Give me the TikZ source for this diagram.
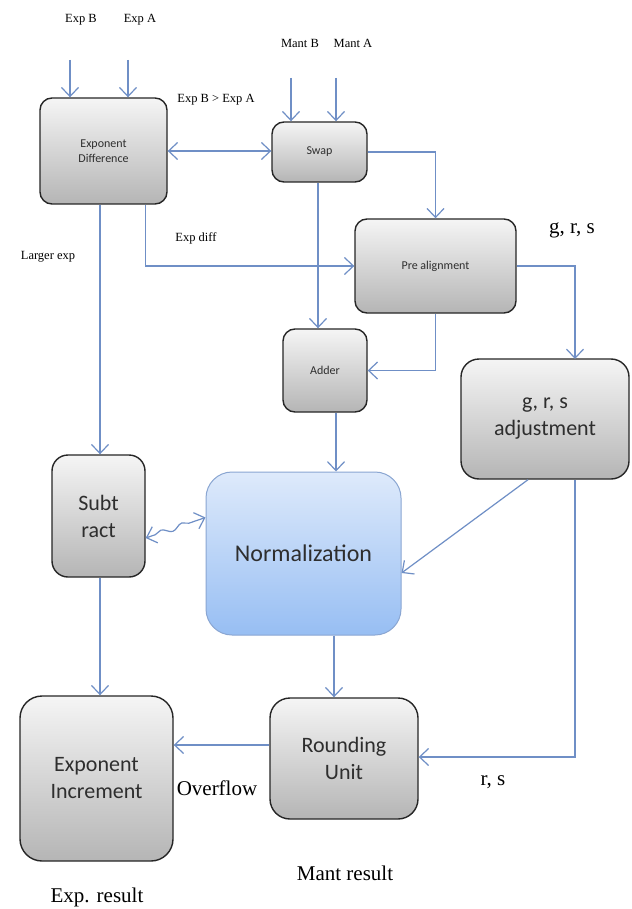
\documentclass[tikz,border=0pt]{standalone}
\usepackage{fontspec}
\setmainfont{Liberation Serif}
\newfontfamily\boxfont{Carlito}
\usetikzlibrary{arrows.meta,calc,decorations.pathmorphing}

\definecolor{arrowblue}{HTML}{6F8FC6}
\definecolor{boxtop}{HTML}{F5F5F5}
\definecolor{boxbot}{HTML}{B5B5B5}
\definecolor{normtop}{HTML}{DEEAFB}
\definecolor{normbot}{HTML}{97BEF3}
\definecolor{normedge}{HTML}{8AA6D2}
\definecolor{boxtext}{HTML}{2E2E2E}

\tikzset{
  blk/.style={draw=black!85, line width=1.4pt, rounded corners=#1,
    top color=boxtop, bottom color=boxbot, inner sep=0pt, align=center,
    text=boxtext},
  blk/.default=12pt,
  smalltxt/.style={font=\boxfont\fontsize{12}{14.5}\selectfont},
  bigtxt/.style={font=\boxfont\fontsize{22}{27}\selectfont},
  lbl/.style={inner sep=0pt, font=\fontsize{12.5}{14}\selectfont},
  biglbl/.style={inner sep=0pt, font=\fontsize{21}{24}\selectfont},
  tip/.tip={Straight Barb[length=9pt,width=17pt]},
  conn/.style={draw=arrowblue, line width=1.2pt, -tip},
  conn2/.style={draw=arrowblue, line width=1.2pt, tip-tip},
}

\begin{document}
\begin{tikzpicture}[x=1pt,y=-1pt]
\useasboundingbox[fill=white] (0,0) rectangle (631,909);

% ---------- blocks ----------
\node[blk, smalltxt, minimum width=127pt, minimum height=106pt] (ed) at (103.5,151) {Exponent\\Difference};
\node[blk, smalltxt, minimum width=95pt, minimum height=60pt] (sw) at (319.5,152) {Swap};
\node[blk, smalltxt, minimum width=161pt, minimum height=94pt] (pa) at (435.5,266) {Pre alignment};
\node[blk, smalltxt, minimum width=84pt, minimum height=83pt] (ad) at (325,370.5) {Adder};
\node[blk=18pt, bigtxt, minimum width=168pt, minimum height=120pt] (grs) at (545,419) {g, r, s\\adjustment};
\node[blk=16pt, bigtxt, minimum width=93pt, minimum height=122pt] (sub) at (98.5,516) {Subt\\ract};
\node[draw=normedge, line width=1pt, rounded corners=26pt, top color=normtop, bottom color=normbot,
      inner sep=0pt, minimum width=195pt, minimum height=163pt, text=boxtext,
      font=\boxfont\fontsize{24}{28}\selectfont] (nor) at (303.5,553.5) {Normalization};
\node[blk=22pt, bigtxt, minimum width=153pt, minimum height=165pt] (ei) at (96.5,778.5) {Exponent\\Increment};
\node[blk=20pt, bigtxt, minimum width=148pt, minimum height=121pt] (ru) at (344,758.5) {Rounding\\Unit};

% ---------- labels ----------
\node[lbl] (lEB) at (81,20) {Exp B};
\node[lbl] (lEA) at (140,20) {Exp A};
\node[lbl] (lMB) at (300,43) {Mant B};
\node[lbl] (lMA) at (353,43) {Mant A};
\node[lbl] (lcmp) at (216,100) {Exp B > Exp A};
\node[lbl] (ldiff) at (196,238) {Exp diff};
\node[lbl] (llarge) at (48,257) {Larger exp};
\node[biglbl] (lgrs) at (572,230) {g, r, s};
\node[biglbl] (lrs) at (493,782) {r, s};
\node[biglbl] (lov) at (217,788) {Overflow};
\node[biglbl] (lmant) at (345,873) {Mant result};
\node[biglbl] (lexp) at (97,897) {Exp. result};

% ---------- helper coordinates ----------
\coordinate (inEB) at (70,60);
\coordinate (inEA) at (128,60);
\coordinate (inMB) at (291,78);
\coordinate (inMA) at (336,78);
\coordinate (grsIn) at (575,359);
\coordinate (swOut) at ($(sw.south)+(-1.5,0)$);
\coordinate (edOut1) at ($(ed.south)+(-3.5,0)$);
\coordinate (edOut2) at ($(ed.south east)+(-22,0)$);
\coordinate (adOut) at ($(ad.south)+(11,0)$);
\coordinate (grsOut1) at ($(grs.south)+(-17,0)$);
\coordinate (norIn) at ($(nor.east)+(0,19.5)$);
\coordinate (ruIn) at ($(ru.east)+(0,-1.5)$);
\coordinate (norOut) at ($(nor.south)+(30.5,0)$);
\coordinate (ruOut) at ($(ru.west)+(0,-13.5)$);
\coordinate (subOut) at ($(sub.south)+(1.5,0)$);
\coordinate (subW) at ($(sub.east)+(0,22)$);
\coordinate (norW) at ($(nor.west)+(0,-36)$);

% ---------- connectors ----------
\draw[conn] (inEB) -- (inEB |- ed.north);
\draw[conn] (inEA) -- (inEA |- ed.north);
\draw[conn] (inMB) -- (inMB |- sw.north);
\draw[conn] (inMA) -- (inMA |- sw.north);

\draw[conn2] (ed.east) -- (ed.east -| sw.west);
\draw[conn] (sw.east) -| (pa.north);
\draw[conn] (swOut) -- (swOut |- ad.north);
\draw[conn] (pa.south) |- (ad.east);
\draw[conn] (pa.east) -| (grsIn);

\draw[conn] (edOut1) -- (edOut1 |- sub.north);
\draw[conn] (edOut2) |- (pa.west);

\draw[conn] (adOut) -- (adOut |- nor.north);
\draw[conn] (grsOut1) -- (norIn);
\draw[conn] (grsIn |- grs.south) |- (ruIn);
\draw[conn] (norOut) -- (norOut |- ru.north);
\draw[conn] (ruOut) -- (ruOut -| ei.east);
\draw[conn] (subOut) -- (subOut |- ei.north);

\draw[conn2, decorate, decoration={snake, amplitude=2.5pt, segment length=22pt, pre length=10pt, post length=10pt}]
  (subW) -- (norW);
\end{tikzpicture}
\end{document}
